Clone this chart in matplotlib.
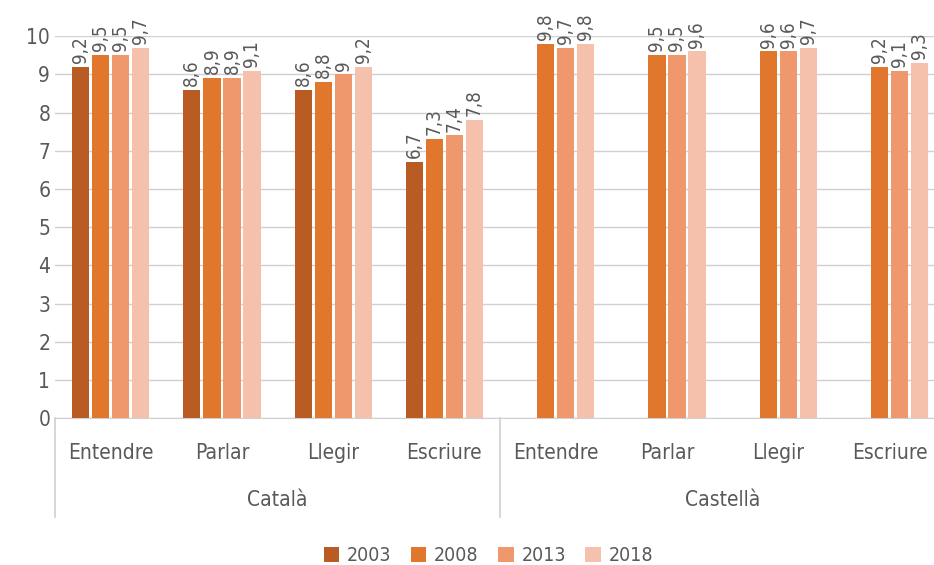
import numpy as np
import matplotlib
matplotlib.use('Agg')
import matplotlib.pyplot as plt
import matplotlib.transforms as mtransforms

plt.rcParams['font.family'] = ['DejaVu Sans']
plt.rcParams['font.stretch'] = 'condensed'

# Data
skills = ['Entendre', 'Parlar', 'Llegir', 'Escriure',
          'Entendre', 'Parlar', 'Llegir', 'Escriure']
languages = ['Català', 'Castellà']
years = ['2003', '2008', '2013', '2018']
v2003 = [9.2, 8.6, 8.6, 6.7, np.nan, np.nan, np.nan, np.nan]
v2008 = [9.5, 8.9, 8.8, 7.3, 9.8, 9.5, 9.6, 9.2]
v2013 = [9.5, 8.9, 9.0, 7.4, 9.7, 9.5, 9.6, 9.1]
v2018 = [9.7, 9.1, 9.2, 7.8, 9.8, 9.6, 9.7, 9.3]
series = [v2003, v2008, v2013, v2018]
colors = ['#B85C23', '#E0772C', '#F0986D', '#F5C1AC']

text_col = '#595959'
line_col = '#D0D0D0'

fig = plt.figure(figsize=(9.34, 5.65), dpi=100)
ax = fig.add_axes([0.0589, 0.26, 0.953, 0.676])

x = np.arange(len(skills))
pitch = 0.18
width = 0.155
for i, (vals, c, yr) in enumerate(zip(series, colors, years)):
    xs = x + (i - 1.5) * pitch
    ax.bar(xs, vals, width=width, color=c, label=yr, zorder=3)
    for xi, v in zip(xs, vals):
        if np.isnan(v):
            continue
        lbl = ('%g' % v).replace('.', ',')
        ax.text(xi, v + 0.1, lbl, rotation=90, ha='center', va='bottom',
                fontsize=13.5, color=text_col)

ax.set_xlim(-0.5, len(skills) - 0.5)
ax.set_ylim(0, 10)
ax.set_yticks(range(0, 11))
ax.yaxis.grid(True, color=line_col, linewidth=1, zorder=0)
ax.set_axisbelow(True)
for s in ['top', 'right', 'left']:
    ax.spines[s].set_visible(False)
ax.spines['bottom'].set_color(line_col)
ax.tick_params(axis='both', length=0, labelsize=15, colors=text_col)
ax.tick_params(axis='x', pad=18)
ax.set_xticks(x)
ax.set_xticklabels(skills)

# second level category axis
trans = mtransforms.blended_transform_factory(ax.transData, ax.transAxes)
for xb in [-0.5, 3.5, 7.5]:
    ax.plot([xb, xb], [0, -0.26], transform=trans, color=line_col,
            linewidth=1.2, clip_on=False)
for j, lang in enumerate(languages):
    ax.text(1.5 + 4 * j, -0.215, lang, transform=trans, ha='center',
            va='center', fontsize=15, color=text_col)

ax.legend(loc='lower center', bbox_to_anchor=(0.487, -0.43), ncol=4,
          frameon=False, fontsize=14, handlelength=0.8, handleheight=0.8,
          handletextpad=0.4, columnspacing=1.0, labelcolor=text_col)

fig.savefig('out.png', dpi=100)
